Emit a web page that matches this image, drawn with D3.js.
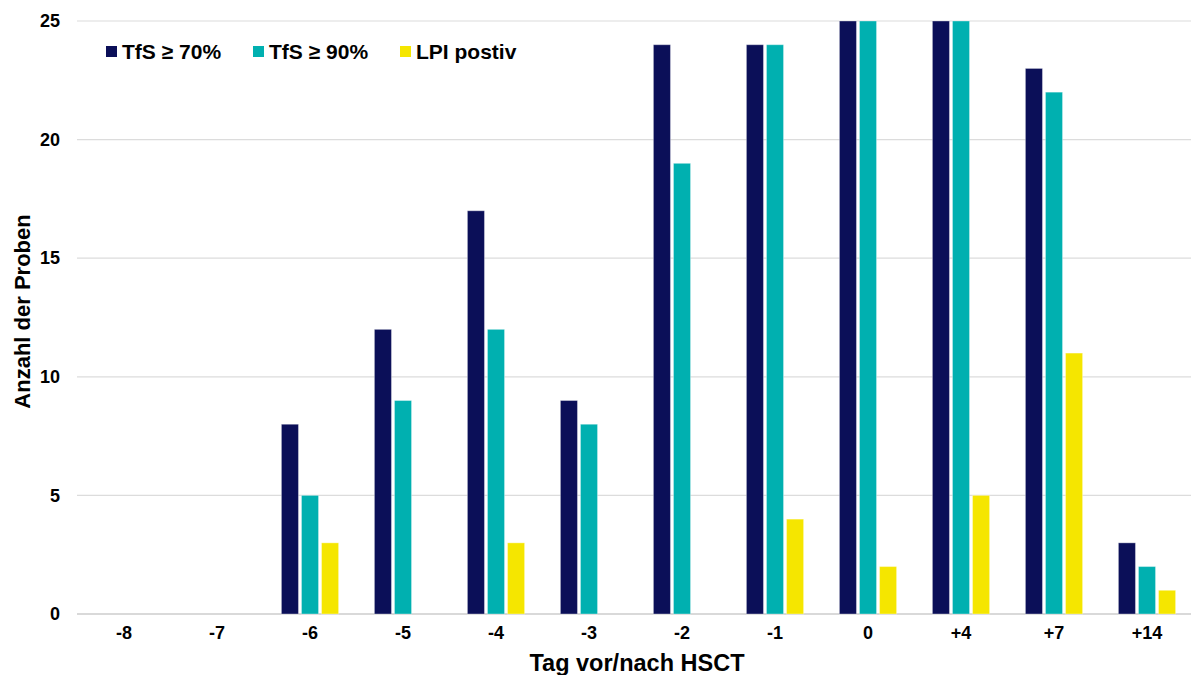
<!DOCTYPE html>
<html>
<head>
<meta charset="utf-8">
<script src="https://cdn.jsdelivr.net/npm/d3@7"></script>
<style>
  html, body { margin: 0; padding: 0; background: #ffffff; }
  svg { display: block; font-family: "Liberation Sans", Arial, sans-serif; }
</style>
</head>
<body>
<svg id="chart" width="1191" height="675"></svg>
<script>
// Tage relativ zur HSCT
const days = ["-8", "-7", "-6", "-5", "-4", "-3", "-2", "-1", "0", "+4", "+7", "+14"];

// Anzahl der Proben je Tag
const tfs70 = [0, 0, 8, 12, 17, 9, 24, 24, 25, 25, 23, 3];
const tfs90 = [0, 0, 5, 9, 12, 8, 19, 24, 25, 25, 22, 2];
const lpiPos = [0, 0, 3, 0, 3, 0, 0, 4, 2, 5, 11, 1];

const seriesNames = ["TfS \u2265 70%", "TfS \u2265 90%", "LPI postiv"];
const seriesValues = [tfs70, tfs90, lpiPos];
const colors = ["#0b0f58", "#00b0b0", "#f5e600"];

const yTicks = [0, 5, 10, 15, 20, 25];

const svg = d3.select("#chart");
const W = 1191, H = 675;
const m = { left: 77.5, right: -2.5, top: 21, bottom: 61 };

const x0 = d3.scaleBand().domain(days).range([m.left, W - m.right])
  .paddingInner(0.385).paddingOuter(0.1925);
const x1 = d3.scaleBand().domain(d3.range(seriesNames.length)).range([0, x0.bandwidth()]).paddingInner(0.15);
const y = d3.scaleLinear().domain([0, 25]).range([H - m.bottom, m.top]).clamp(true);

// Gitterlinien
svg.append("g")
  .selectAll("line")
  .data(yTicks)
  .join("line")
  .attr("x1", 77).attr("x2", W)
  .attr("y1", d => y(d)).attr("y2", d => y(d))
  .attr("stroke", d => d === 0 ? "#d9d9d9" : "#dcdcdc")
  .attr("stroke-width", d => d === 0 ? 2 : 1.2);

// y-Achse
const yAxis = svg.append("g")
  .attr("transform", `translate(77,0)`)
  .call(d3.axisLeft(y).tickValues(yTicks).tickSize(0).tickPadding(17));
yAxis.select(".domain").remove();
yAxis.selectAll("text")
  .attr("font-size", 18).attr("font-weight", "bold").attr("fill", "#000")
  .attr("font-family", "Liberation Sans, Arial, sans-serif");

// x-Achse
const xAxis = svg.append("g")
  .attr("transform", `translate(0,${H - m.bottom})`)
  .call(d3.axisBottom(x0).tickSize(0).tickPadding(12));
xAxis.select(".domain").remove();
xAxis.selectAll("text")
  .attr("font-size", 18).attr("font-weight", "bold").attr("fill", "#000")
  .attr("font-family", "Liberation Sans, Arial, sans-serif");

// Balken
const groups = svg.append("g")
  .selectAll("g")
  .data(days)
  .join("g")
  .attr("transform", d => `translate(${x0(d)},0)`);

groups.selectAll("rect")
  .data((d, i) => seriesValues.map((vals, s) => ({ s, v: vals[i] })))
  .join("rect")
  .filter(d => d.v > 0)
  .attr("x", d => x1(d.s))
  .attr("width", x1.bandwidth())
  .attr("y", d => y(d.v))
  .attr("height", d => y(0) - y(d.v))
  .attr("fill", d => colors[d.s])
  .attr("stroke", "rgba(255,255,255,0.35)")
  .attr("stroke-width", 1);

// Achsentitel
svg.append("text")
  .attr("transform", `translate(30,${(y(0) + y(25)) / 2 - 6}) rotate(-90)`)
  .attr("text-anchor", "middle")
  .attr("font-size", 22).attr("font-weight", "bold").attr("fill", "#000")
  .text("Anzahl der Proben");

svg.append("text")
  .attr("x", 637)
  .attr("y", 671)
  .attr("text-anchor", "middle")
  .attr("font-size", 23.5).attr("font-weight", "bold").attr("fill", "#000")
  .text("Tag vor/nach HSCT");

// Legende
const legendX = [106, 253, 400];
const legend = svg.append("g")
  .selectAll("g")
  .data(seriesNames)
  .join("g")
  .attr("transform", (d, i) => `translate(${legendX[i]},46)`);
legend.append("rect")
  .attr("width", 11).attr("height", 11)
  .attr("fill", (d, i) => colors[i]);
legend.append("text")
  .attr("x", 16).attr("y", 5.5).attr("dy", "0.36em")
  .attr("font-size", 21).attr("font-weight", "bold").attr("fill", "#000")
  .text(d => d);
</script>
</body>
</html>
